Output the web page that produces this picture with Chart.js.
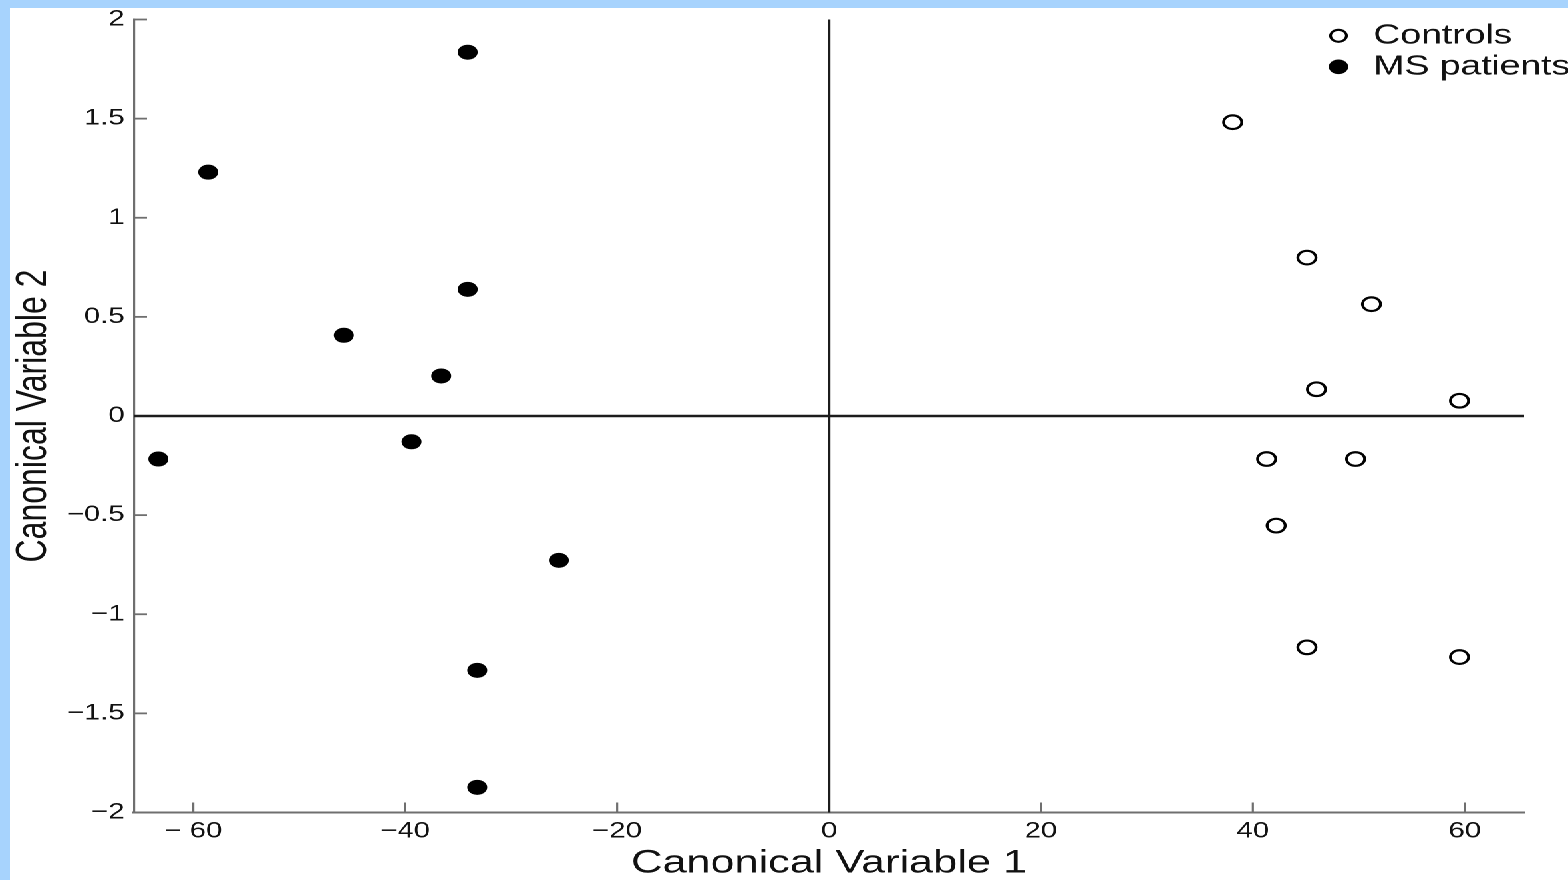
<!DOCTYPE html>
<html><head><meta charset="utf-8">
<script src="https://cdn.jsdelivr.net/npm/chart.js@4.4.0/dist/chart.umd.min.js"></script>
<style>
html,body{margin:0;padding:0;background:#a7d3fd;width:1568px;height:880px;overflow:hidden}
#wrap{position:absolute;left:10px;top:8px;width:1171px;height:872px;background:#fff;transform:scaleX(1.3305);transform-origin:0 0}
#wrap canvas{display:block}
</style></head><body>
<div id="wrap"><canvas id="c"></canvas></div>
<script>
const seriesNames = ['Controls', 'MS patients'];
const controlsX = [38.1, 45.1, 51.2, 46.0, 59.5, 41.3, 49.7, 42.2, 45.1, 59.5];
const controlsY = [1.482, 0.799, 0.564, 0.135, 0.077, -0.217, -0.217, -0.553, -1.167, -1.216];
const msX = [-34.1, -58.6, -34.1, -45.8, -36.6, -39.4, -63.3, -25.5, -33.2, -33.2];
const msY = [1.835, 1.230, 0.639, 0.407, 0.202, -0.130, -0.217, -0.728, -1.283, -1.873];
const xTickValues = [-60, -40, -20, 0, 20, 40, 60];
const xTickLabels = ['\u2212 60', '\u221240', '\u221220', '0', '20', '40', '60'];
const yTickValues = [2, 1.5, 1, 0.5, 0, -0.5, -1, -1.5, -2];
const yTickLabels = ['2', '1.5', '1', '0.5', '0', '\u22120.5', '\u22121', '\u22121.5', '\u22122'];
const xTitle = 'Canonical Variable 1';
const yTitle = 'Canonical Variable 2';

const FONT = '"Liberation Sans", Arial, Helvetica, sans-serif';
const TXT = '#111111';
const AXIS = '#6f6f6f';

function zip(xs, ys) { return xs.map((x, i) => ({x: x, y: ys[i]})); }
function noPad(s) { s.paddingTop = 0; s.paddingBottom = 0; s.paddingLeft = 0; s.paddingRight = 0; }

const refLines = {
  id: 'refLines',
  beforeDatasetsDraw(chart) {
    const ctx = chart.ctx, ca = chart.chartArea;
    const xs = chart.scales.x, ys = chart.scales.y;
    ctx.save();
    ctx.strokeStyle = AXIS;
    ctx.lineWidth = 1.6;
    xTickValues.forEach(v => {
      const p = xs.getPixelForValue(v);
      ctx.beginPath(); ctx.moveTo(p, ca.bottom); ctx.lineTo(p, ca.bottom - 10); ctx.stroke();
    });
    ctx.lineWidth = 1.8;
    yTickValues.forEach(v => {
      const p = ys.getPixelForValue(v);
      ctx.beginPath(); ctx.moveTo(ca.left, p); ctx.lineTo(ca.left + 9.8, p); ctx.stroke();
    });
    ctx.strokeStyle = '#1c1c1c';
    const x0 = xs.getPixelForValue(0);
    ctx.lineWidth = 2.0;
    ctx.beginPath(); ctx.moveTo(x0, ca.top); ctx.lineTo(x0, ca.bottom); ctx.stroke();
    const y0 = ys.getPixelForValue(0);
    ctx.lineWidth = 2.6;
    ctx.beginPath(); ctx.moveTo(ca.left, y0); ctx.lineTo(ca.right, y0); ctx.stroke();
    ctx.restore();
  }
};

const legendPlugin = {
  id: 'customLegend',
  afterDraw(chart) {
    const ctx = chart.ctx;
    ctx.save();
    const mx = 998.5, tx = 1024.8;
    const rows = [27.8, 58.8];
    ctx.beginPath(); ctx.arc(mx, rows[0], 6.0, 0, Math.PI * 2);
    ctx.fillStyle = '#fff'; ctx.fill();
    ctx.lineWidth = 2.1; ctx.strokeStyle = '#000'; ctx.stroke();
    ctx.beginPath(); ctx.arc(mx, rows[1], 7.3, 0, Math.PI * 2);
    ctx.fillStyle = '#000'; ctx.fill();
    ctx.fillStyle = TXT;
    ctx.font = '28px ' + FONT;
    ctx.textAlign = 'left'; ctx.textBaseline = 'middle';
    ctx.fillText(seriesNames[0], tx, rows[0]);
    ctx.fillText(seriesNames[1], tx, rows[1]);
    ctx.restore();
  }
};

new Chart(document.getElementById('c'), {
  type: 'scatter',
  data: {
    datasets: [
      {
        label: seriesNames[0],
        data: zip(controlsX, controlsY),
        pointStyle: 'circle',
        pointRadius: 6.8,
        pointBackgroundColor: '#ffffff',
        pointBorderColor: '#000000',
        pointBorderWidth: 2.2
      },
      {
        label: seriesNames[1],
        data: zip(msX, msY),
        pointStyle: 'circle',
        pointRadius: 7.5,
        pointBackgroundColor: '#000000',
        pointBorderColor: '#000000',
        pointBorderWidth: 0
      }
    ]
  },
  options: {
    responsive: true,
    maintainAspectRatio: false,
    animation: false,
    devicePixelRatio: 2,
    layout: {padding: {top: 11.5, right: 33, left: 0, bottom: 0}},
    plugins: {legend: {display: false}, tooltip: {enabled: false}},
    scales: {
      x: {
        type: 'linear',
        position: 'bottom',
        min: -65.6, max: 65.6,
        afterBuildTicks: s => { s.ticks = xTickValues.map(v => ({value: v})); },
        afterFit: s => { s.height = 67.5; noPad(s); },
        grid: {display: false, drawTicks: false},
        border: {display: true, color: AXIS, width: 2},
        ticks: {
          padding: 5.5,
          color: TXT,
          font: {family: FONT, size: 22},
          maxRotation: 0,
          autoSkip: false,
          callback: v => { const i = xTickValues.indexOf(v); return i >= 0 ? xTickLabels[i] : ''; }
        },
        title: {
          display: true, text: xTitle, color: TXT,
          font: {family: FONT, size: 32.5, lineHeight: 1},
          padding: {top: 0, bottom: 0}
        }
      },
      y: {
        type: 'linear',
        position: 'left',
        min: -2, max: 2,
        afterBuildTicks: s => { s.ticks = yTickValues.map(v => ({value: v})); },
        afterFit: s => { s.width = 93.2; noPad(s); },
        grid: {display: false, drawTicks: false},
        border: {display: true, color: AXIS, width: 1.6},
        ticks: {
          padding: 7,
          color: TXT,
          font: {family: FONT, size: 22},
          autoSkip: false,
          callback: v => { const i = yTickValues.indexOf(v); return i >= 0 ? yTickLabels[i] : ''; }
        },
        title: {
          display: true, text: yTitle, color: TXT,
          font: {family: FONT, size: 32, lineHeight: 1},
          padding: {top: 2, bottom: 0}
        }
      }
    }
  },
  plugins: [refLines, legendPlugin]
});
</script>
</body></html>
